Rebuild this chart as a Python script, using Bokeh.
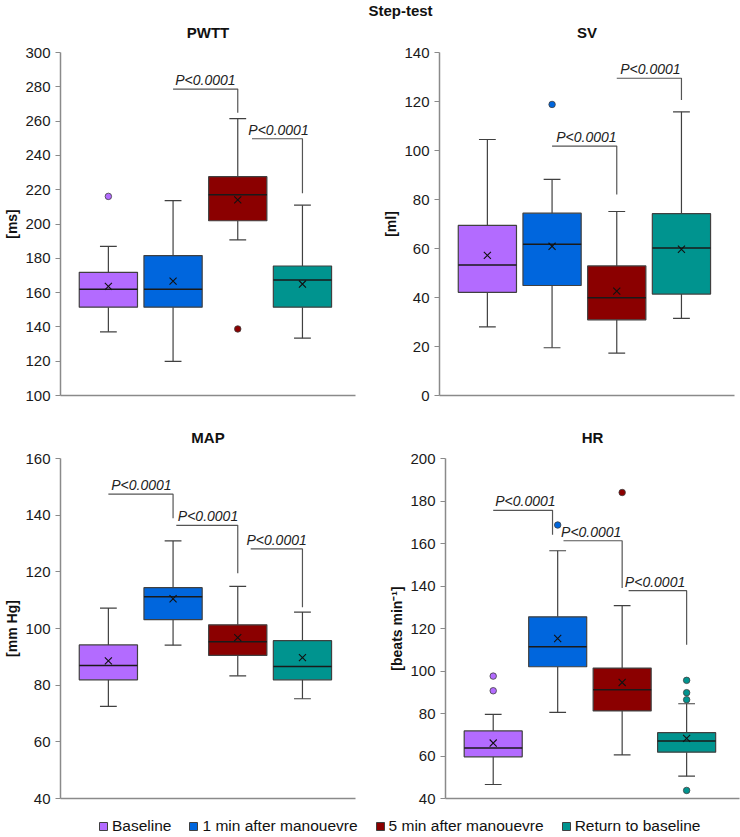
from bokeh.plotting import figure
from bokeh.layouts import column, row
from bokeh.models import (Range1d, SingleIntervalTicker, FixedTicker, Label,
                          Legend, LegendItem, ColumnDataSource)
from bokeh.embed import file_html
from bokeh.resources import INLINE
from bokeh.core.properties import value

FONT = "Liberation Sans"

GROUPS = ["Baseline", "1 min after manouevre", "5 min after manouevre", "Return to baseline"]
COLORS = ["#B36BFF", "#0066DD", "#8B0000", "#00948F"]

# ---- PWTT [ms] ----
PWTT_LOW = [137.1, 119.9, 190.7, 133.4]
PWTT_Q1 = [151.5, 151.5, 201.9, 151.5]
PWTT_MED = [162.0, 161.9, 217.1, 167.3]
PWTT_Q3 = [171.8, 181.6, 227.6, 175.5]
PWTT_HIGH = [187.0, 213.6, 261.4, 211.0]
PWTT_MEAN = [163.6, 166.7, 214.1, 165.0]
PWTT_OUT_GROUP = [1, 3]
PWTT_OUT_VALUE = [216.1, 138.8]
PWTT_BR_LEFT = [2.0, 3.22]
PWTT_BR_RIGHT = [3.0, 4.0]
PWTT_BR_TOP = [278.7, 249.7]
PWTT_BR_END = [264.9, 218.0]
PWTT_BR_TEXT_X = [2.5, 3.63]

# ---- SV [ml] ----
SV_LOW = [28.0, 19.5, 17.3, 31.5]
SV_Q1 = [42.1, 44.9, 30.9, 41.4]
SV_MED = [53.3, 61.7, 39.9, 60.2]
SV_Q3 = [69.4, 74.4, 52.9, 74.2]
SV_HIGH = [104.5, 88.2, 75.1, 115.8]
SV_MEAN = [57.2, 60.9, 42.6, 59.7]
SV_OUT_GROUP = [2]
SV_OUT_VALUE = [118.8]
SV_BR_LEFT = [2.0, 3.0]
SV_BR_RIGHT = [3.0, 4.0]
SV_BR_TOP = [101.8, 129.5]
SV_BR_END = [82.0, 120.6]
SV_BR_TEXT_X = [2.53, 3.52]

# ---- MAP [mm Hg] ----
MAP_LOW = [72.5, 94.1, 83.3, 75.2]
MAP_Q1 = [81.9, 103.1, 90.5, 81.9]
MAP_MED = [86.9, 111.2, 95.3, 86.6]
MAP_Q3 = [94.2, 114.4, 101.3, 95.7]
MAP_HIGH = [107.2, 130.9, 114.9, 105.8]
MAP_MEAN = [88.6, 110.5, 96.8, 89.7]
MAP_OUT_GROUP = []
MAP_OUT_VALUE = []
MAP_BR_LEFT = [1.0, 2.05, 3.2]
MAP_BR_RIGHT = [2.0, 3.0, 4.0]
MAP_BR_TOP = [147.4, 136.4, 128.1]
MAP_BR_END = [138.9, 119.5, 107.5]
MAP_BR_TEXT_X = [1.51, 2.54, 3.6]

# ---- HR [beats min-1] ----
HR_LOW = [46.6, 80.5, 60.5, 50.5]
HR_Q1 = [59.6, 102.0, 81.2, 61.8]
HR_MED = [63.8, 111.4, 91.2, 67.1]
HR_Q3 = [71.8, 125.5, 101.4, 71.0]
HR_HIGH = [79.6, 156.6, 130.8, 84.6]
HR_MEAN = [66.1, 115.3, 94.6, 68.3]
HR_OUT_GROUP = [1, 1, 2, 3, 4, 4, 4, 4]
HR_OUT_VALUE = [97.6, 90.7, 168.7, 184.0, 95.6, 89.8, 86.5, 43.8]
HR_BR_LEFT = [1.0, 2.09, 3.1]
HR_BR_RIGHT = [1.92, 3.0, 4.0]
HR_BR_TOP = [175.6, 161.3, 137.8]
HR_BR_END = [164.1, 139.1, 112.3]
HR_BR_TEXT_X = [1.5, 2.52, 3.51]

P_TEXT = "P<0.0001"
BOX_W = 0.9
CAP_W = 0.26
EDGE = "#404040"
AXIS_GREY = "#8a8a8a"
WIDTH = 370
TOP = 10
BOTTOM = 10


def panel(ylabel, ymin, ymax, low, q1, med, q3, high, mean,
          out_group, out_value, br_left, br_right, br_top, br_end, br_text_x,
          height, border_left, border_right):
    p = figure(width=WIDTH, height=height, output_backend="svg", toolbar_location=None,
               x_range=Range1d(0.26, 4.82), y_range=Range1d(ymin, ymax),
               min_border_left=border_left, min_border_right=border_right,
               min_border_top=TOP, min_border_bottom=BOTTOM)
    p.outline_line_color = None
    p.grid.visible = False
    p.background_fill_color = "white"

    xs = [i + 1 for i in range(len(low))]
    src = ColumnDataSource(dict(
        x=xs, low=low, q1=q1, med=med, q3=q3, high=high, mean=mean, color=COLORS,
        m0=[x - BOX_W / 2 for x in xs], m1=[x + BOX_W / 2 for x in xs],
        c0=[x - CAP_W / 2 for x in xs], c1=[x + CAP_W / 2 for x in xs],
    ))

    # whiskers and caps
    p.segment(x0="x", y0="q3", x1="x", y1="high", source=src, line_color=EDGE, line_width=1.2)
    p.segment(x0="x", y0="q1", x1="x", y1="low", source=src, line_color=EDGE, line_width=1.2)
    p.segment(x0="c0", y0="high", x1="c1", y1="high", source=src, line_color=EDGE, line_width=1.2)
    p.segment(x0="c0", y0="low", x1="c1", y1="low", source=src, line_color=EDGE, line_width=1.2)

    # boxes, medians, means
    p.vbar(x="x", bottom="q1", top="q3", width=BOX_W, source=src,
           fill_color="color", line_color=EDGE, line_width=1.2)
    p.segment(x0="m0", y0="med", x1="m1", y1="med", source=src, line_color="#1a1a1a", line_width=1.5)
    p.scatter(x="x", y="mean", source=src, marker="x", size=10, line_color="#111111", line_width=1.1)

    # outliers
    if out_group:
        p.scatter(x=out_group, y=out_value, marker="circle", size=6.5,
                  fill_color=[COLORS[g - 1] for g in out_group],
                  line_color=EDGE, line_width=0.8)

    # significance brackets
    p.multi_line(xs=[[l, r, r] for l, r in zip(br_left, br_right)],
                 ys=[[t, t, e] for t, e in zip(br_top, br_end)],
                 line_color="#555555", line_width=1.2)
    p.text(x=br_text_x, y=br_top, text=[P_TEXT] * len(br_top),
           text_font=value(FONT), text_font_size="14px", text_font_style="italic",
           text_color="#222222", text_align="center", text_baseline="alphabetic",
           y_offset=-9)

    # axes
    ya = p.yaxis[0]
    ya.ticker = SingleIntervalTicker(interval=20)
    ya.axis_label = ylabel
    ya.axis_label_text_font = FONT
    ya.axis_label_text_font_size = "14px"
    ya.axis_label_text_font_style = "bold"
    ya.axis_label_text_color = "#111111"
    ya.axis_label_standoff = 2
    ya.major_label_text_font = FONT
    ya.major_label_text_font_size = "15px"
    ya.major_label_text_color = "#1a1a1a"
    ya.major_label_standoff = 5
    ya.axis_line_color = AXIS_GREY
    ya.axis_line_width = 1.5
    ya.major_tick_line_color = AXIS_GREY
    ya.major_tick_line_width = 1.2
    ya.major_tick_out = 5
    ya.major_tick_in = 0
    ya.minor_tick_line_color = None

    xa = p.xaxis[0]
    xa.ticker = FixedTicker(ticks=[])
    xa.axis_line_color = AXIS_GREY
    xa.axis_line_width = 1.5
    xa.major_tick_out = 0
    xa.major_tick_in = 0
    xa.minor_tick_line_color = None
    xa.major_label_standoff = 0
    xa.major_label_text_font_size = "0px"
    return p


# left / right plot-area borders of the two columns
LEFT_COL = (60, 15)
RIGHT_COL_TOP = (69, 6)
RIGHT_COL_BOTTOM = (75, 1)

p1 = panel("[ms]", 100, 300, PWTT_LOW, PWTT_Q1, PWTT_MED, PWTT_Q3, PWTT_HIGH,
           PWTT_MEAN, PWTT_OUT_GROUP, PWTT_OUT_VALUE, PWTT_BR_LEFT, PWTT_BR_RIGHT,
           PWTT_BR_TOP, PWTT_BR_END, PWTT_BR_TEXT_X, 363, *LEFT_COL)
p2 = panel("[ml]", 0, 140, SV_LOW, SV_Q1, SV_MED, SV_Q3, SV_HIGH,
           SV_MEAN, SV_OUT_GROUP, SV_OUT_VALUE, SV_BR_LEFT, SV_BR_RIGHT,
           SV_BR_TOP, SV_BR_END, SV_BR_TEXT_X, 363, *RIGHT_COL_TOP)
p3 = panel("[mm Hg]", 40, 160, MAP_LOW, MAP_Q1, MAP_MED, MAP_Q3, MAP_HIGH,
           MAP_MEAN, MAP_OUT_GROUP, MAP_OUT_VALUE, MAP_BR_LEFT, MAP_BR_RIGHT,
           MAP_BR_TOP, MAP_BR_END, MAP_BR_TEXT_X, 360, *LEFT_COL)
p4 = panel("[beats min\u207b\u00b9]", 40, 200, HR_LOW, HR_Q1, HR_MED, HR_Q3, HR_HIGH,
           HR_MEAN, HR_OUT_GROUP, HR_OUT_VALUE, HR_BR_LEFT, HR_BR_RIGHT,
           HR_BR_TOP, HR_BR_END, HR_BR_TEXT_X, 360, *RIGHT_COL_BOTTOM)


def blank(height):
    f = figure(width=2 * WIDTH, height=height, output_backend="svg", toolbar_location=None,
               x_range=Range1d(0, 1), y_range=Range1d(0, 1), min_border=0)
    f.outline_line_color = None
    f.axis.visible = False
    f.grid.visible = False
    return f


def heading(fig, text, x, y):
    fig.add_layout(Label(x=x, y=y, x_units="screen", y_units="screen", text=text,
                         text_align="center", text_baseline="middle", text_font=FONT,
                         text_font_size="15px", text_font_style="bold", text_color="#111111"))


def centre(offset, borders):
    left, right = borders
    return offset + left + (WIDTH - left - right) / 2


# overall heading plus the headings of the upper panels
head = blank(42)
heading(head, "Step-test", 400, 32)
heading(head, "PWTT", centre(0, LEFT_COL), 10)
heading(head, "SV", centre(WIDTH, RIGHT_COL_TOP), 10)

# headings of the lower panels
mid = blank(43)
heading(mid, "MAP", centre(0, LEFT_COL), 11)
heading(mid, "HR", centre(WIDTH, RIGHT_COL_BOTTOM), 11)

# shared legend: swatch-only renderers (NaN rows are never drawn in the plot area)
foot = blank(29)
items = []
for name, color in zip(GROUPS, COLORS):
    swatch = ColumnDataSource(dict(x=[float("nan")], top=[float("nan")]))
    r = foot.vbar(x="x", top="top", width=0.1, source=swatch,
                  fill_color=color, line_color=EDGE, line_width=1)
    items.append(LegendItem(label=value(name), renderers=[r]))
legend = Legend(items=items, orientation="horizontal", location=(98, 2),
                glyph_width=10, glyph_height=10, label_standoff=4, spacing=17,
                padding=0, margin=0, border_line_color=None, background_fill_alpha=0,
                label_text_font=FONT, label_text_font_size="15.5px", label_text_color="#111111")
foot.add_layout(legend)

layout = column(head, row(p1, p2), mid, row(p3, p4), foot)
open("out.html", "w").write(file_html(layout, INLINE))
